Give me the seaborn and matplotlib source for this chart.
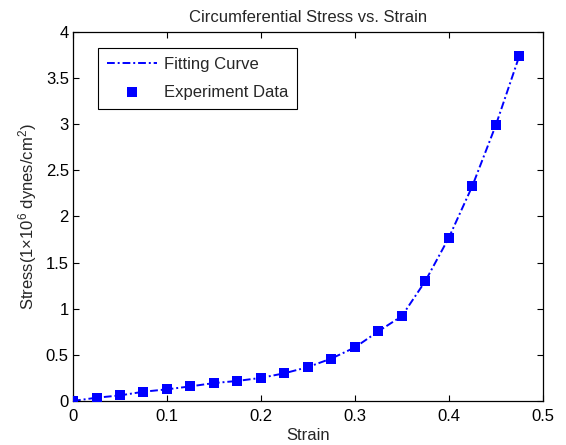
import matplotlib
matplotlib.use("Agg")
import matplotlib.pyplot as plt
import seaborn as sns
import pandas as pd

# ── data ─────────────────────────────────────────────────────────────────────
strain = [0.0, 0.025, 0.05, 0.075, 0.1, 0.125, 0.15, 0.175, 0.2, 0.225,
          0.25, 0.275, 0.3, 0.325, 0.35, 0.375, 0.4, 0.425, 0.45, 0.475]
stress = [0.0, 0.035, 0.06, 0.10, 0.126, 0.158, 0.194, 0.217, 0.25, 0.30,
          0.367, 0.46, 0.58, 0.755, 0.92, 1.30, 1.77, 2.33, 2.99, 3.74]

df = pd.DataFrame({"Strain": strain, "Stress": stress})

sns.set_theme(style="ticks")
plt.rcParams["font.family"] = ["Liberation Sans", "DejaVu Sans"]
plt.rcParams["mathtext.default"] = "regular"
plt.rcParams["xtick.direction"] = "in"
plt.rcParams["ytick.direction"] = "in"

FS = 12

fig = plt.figure(figsize=(5.66, 4.45), dpi=100)
ax = fig.add_axes([0.129, 0.099, 0.830, 0.829])

sns.lineplot(data=df, x="Strain", y="Stress", ax=ax, color="blue",
             linewidth=1.4, label="Fitting Curve")
ax.lines[0].set_dashes([4, 1.5, 1, 1.5])
sns.scatterplot(data=df, x="Strain", y="Stress", ax=ax, color="blue",
                marker="s", s=45, edgecolor="blue", linewidth=0,
                label="Experiment Data", zorder=3)

ax.set_xlim(0, 0.5)
ax.set_ylim(0, 4)
ax.set_xticks([0, 0.1, 0.2, 0.3, 0.4, 0.5])
ax.set_xticklabels(["0", "0.1", "0.2", "0.3", "0.4", "0.5"])
ax.set_yticks([0, 0.5, 1, 1.5, 2, 2.5, 3, 3.5, 4])
ax.set_yticklabels(["0", "0.5", "1", "1.5", "2", "2.5", "3", "3.5", "4"])
ax.tick_params(axis="both", labelsize=FS, length=4, width=0.8,
               top=True, right=True, colors="black")
ax.tick_params(axis="x", pad=5.5)
ax.tick_params(axis="y", pad=3)
for sp in ax.spines.values():
    sp.set_visible(True)
    sp.set_color("black")
    sp.set_linewidth(0.9)

ax.set_xlabel("Strain", fontsize=FS, labelpad=3)
ax.set_ylabel("Stress(1\u00d710$^6$ dynes/cm$^2$)", fontsize=FS, labelpad=5)
ax.set_title("Circumferential Stress vs. Strain", fontsize=FS, pad=7)

leg = ax.legend(loc="upper left", bbox_to_anchor=(0.053, 0.957),
                borderaxespad=0, fontsize=FS,
                frameon=True, fancybox=False, edgecolor="black",
                framealpha=1, handlelength=3.0, handletextpad=0.4,
                borderpad=0.55, labelspacing=0.75)
leg.get_frame().set_linewidth(0.8)

fig.savefig("out.png", dpi=100)
